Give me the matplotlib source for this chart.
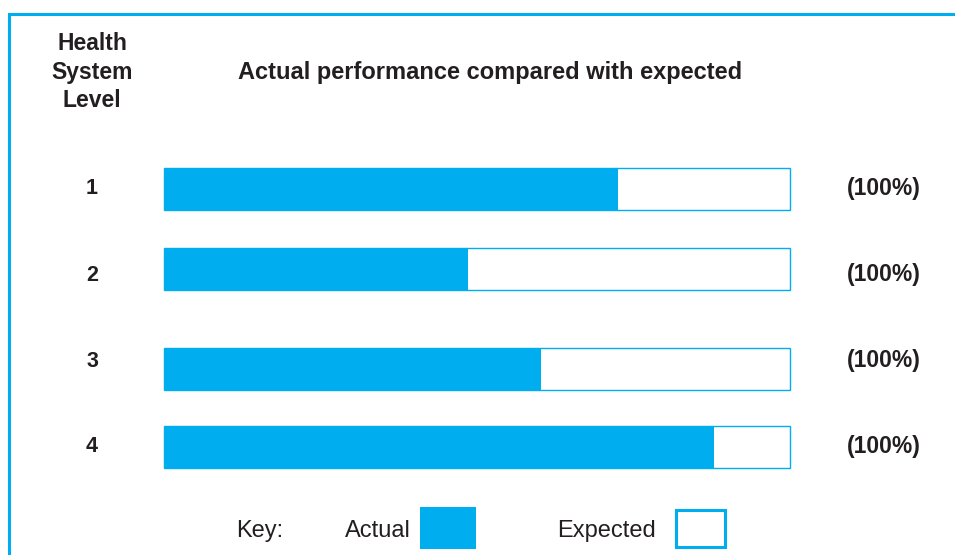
import matplotlib.pyplot as plt
import matplotlib.transforms as mtransforms
from matplotlib.patches import Rectangle

levels = ["1", "2", "3", "4"]
actual = [72.5, 48.6, 60.2, 87.9]
expected = [100, 100, 100, 100]
expected_labels = ["(100%)", "(100%)", "(100%)", "(100%)"]
row_pos = [189, 269, 369, 447]
# row labels are not quite centred on the bars in the original
label_pos = [187, 274, 360, 445]

cyan = "#00AEEF"
dark = "#231F20"
plt.rcParams["font.family"] = ["Liberation Sans", "DejaVu Sans"]

fig = plt.figure(figsize=(9.55, 5.55), dpi=100)

# frame around the whole chart (top and left edges visible)
fig.patches.append(Rectangle((9 / 955, -0.05), 1.0, (555 - 13.5) / 555 + 0.05,
                             transform=fig.transFigure, fill=False,
                             edgecolor=cyan, linewidth=2.2))

ax = fig.add_axes([164 / 955, 0, 626 / 955, 1])
ax.set_xlim(0, 100)
ax.set_ylim(555, 0)
ax.axis("off")

ax.barh(row_pos, expected, height=42, color="white", edgecolor=cyan,
        linewidth=1.0, clip_on=False)
ax.barh(row_pos, actual, height=42, color=cyan, edgecolor="none")

trans = mtransforms.blended_transform_factory(fig.transFigure, ax.transData)
for lv, lab, y in zip(levels, expected_labels, label_pos):
    ax.text(92 / 955, y + 1.5, lv, transform=trans, ha="center", va="center",
            fontsize=15.5, fontweight="bold", color=dark)
    ax.text(884 / 955, y + 1, lab, transform=trans, ha="center", va="center",
            fontsize=16.5, fontweight="bold", color=dark)

fig.text(92 / 955, 1 - 72 / 555, "Health\nSystem\nLevel", ha="center", va="center",
         fontsize=16.5, fontweight="bold", color=dark, linespacing=1.3)
fig.text(490 / 955, 1 - 72 / 555, "Actual performance compared with expected",
         ha="center", va="center", fontsize=17, fontweight="bold", color=dark)

# key
fig.text(260 / 955, 1 - 531 / 555, "Key:", ha="center", va="center", fontsize=17, color=dark)
fig.text(378 / 955, 1 - 531 / 555, "Actual", ha="center", va="center", fontsize=17, color=dark)
fig.text(606 / 955, 1 - 531 / 555, "Expected", ha="center", va="center", fontsize=17, color=dark)
fig.patches.append(Rectangle((420 / 955, 1 - 549 / 555), 56 / 955, 42 / 555,
                             transform=fig.transFigure, facecolor=cyan, edgecolor="none"))
fig.patches.append(Rectangle((676 / 955, 1 - 547 / 555), 49 / 955, 37 / 555,
                             transform=fig.transFigure, facecolor="white",
                             edgecolor=cyan, linewidth=2.2))

fig.savefig("out.png", dpi=100)
